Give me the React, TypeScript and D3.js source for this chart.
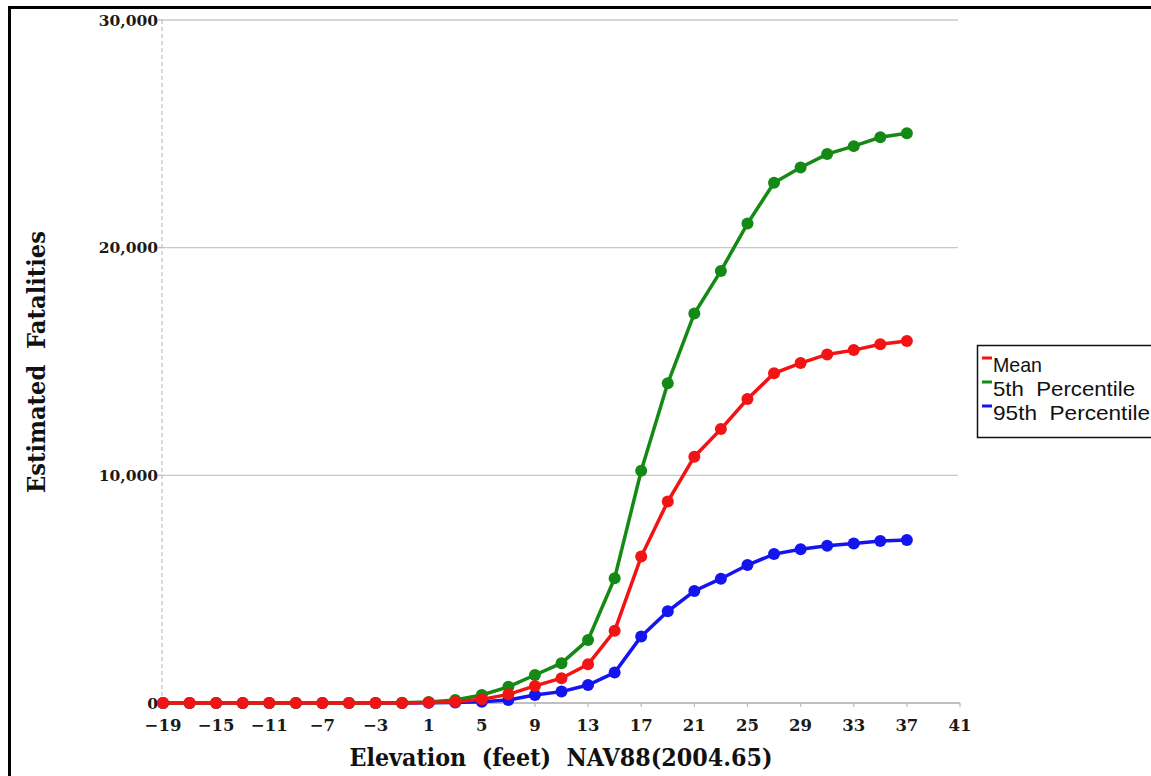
import React from "react";
import * as d3 from "d3";

const elevations = [-19, -17, -15, -13, -11, -9, -7, -5, -3, -1, 1, 3, 5, 7, 9, 11, 13, 15, 17, 19, 21, 23, 25, 27, 29, 31, 33, 35, 37];
const meanValues = [0, 0, 0, 0, 0, 0, 0, 0, 0, 5, 20, 60, 160, 380, 750, 1090, 1700, 3170, 6430, 8850, 10820, 12030, 13350, 14480, 14930, 15310, 15500, 15760, 15900];
const p5Values = [0, 0, 0, 0, 0, 0, 0, 0, 0, 10, 40, 130, 350, 710, 1230, 1750, 2770, 5480, 10200, 14040, 17110, 18980, 21060, 22850, 23520, 24110, 24460, 24850, 25030];
const p95Values = [0, 0, 0, 0, 0, 0, 0, 0, 0, 0, 10, 25, 60, 130, 350, 500, 790, 1340, 2920, 4030, 4920, 5460, 6060, 6540, 6750, 6910, 7010, 7120, 7160];
const xTicks = [-19, -15, -11, -7, -3, 1, 5, 9, 13, 17, 21, 25, 29, 33, 37, 41];
const yTicks = [0, 10000, 20000, 30000];
const seriesNames = ["Mean", "5th Percentile", "95th Percentile"];
const seriesColors = ["#f21414", "#148a14", "#1414f0"];

export default function App() {
  const W = 1151, H = 776;
  const x = d3.scaleLinear().domain([-19, 41]).range([163, 960]);
  const y = d3.scaleLinear().domain([0, 30000]).range([703, 20]);
  const serif = "'DejaVu Serif', 'Liberation Serif', serif";
  const sans = "'Liberation Sans', Arial, sans-serif";
  const line = d3.line<[number, number]>().x(d => x(d[0])).y(d => y(d[1]));
  const series = [meanValues, p5Values, p95Values];
  const drawOrder = [2, 1, 0];
  const fmt = d3.format(",");
  const minus = (v: number) => (v < 0 ? "\u2212" + Math.abs(v) : String(v));

  return (
    <svg width={W} height={H} style={{ position: "absolute", left: 0, top: 0, background: "#fff" }}>
      <rect x={0} y={0} width={W} height={H} fill="#fff" />
      <rect x={9.5} y={7.5} width={1300} height={900} fill="none" stroke="#000" strokeWidth={3} />
      {/* gridlines */}
      {yTicks.filter(t => t > 0).map(t => (
        <g key={t}>
          <line x1={x(-19) - 1} x2={958} y1={y(t)} y2={y(t)} stroke="#c8c8c8" strokeWidth={1.3} />
          <line x1={x(-19) - 5} x2={x(-19)} y1={y(t)} y2={y(t)} stroke="#bbb" strokeWidth={1.3} />
        </g>
      ))}
      <line x1={x(-19) - 1} x2={x(-19) - 1} y1={y(30000)} y2={y(0)} stroke="#c4c4c4" strokeWidth={1.3} strokeDasharray="4,3" />
      {/* x axis */}
      <line x1={x(-19) - 1} x2={x(41)} y1={y(0)} y2={y(0)} stroke="#c0c0c0" strokeWidth={2} />
      {xTicks.map(t => (
        <g key={t}>
          <line x1={x(t)} x2={x(t)} y1={y(0)} y2={y(0) + 4} stroke="#c0c0c0" strokeWidth={1.3} />
          <text x={x(t)} y={731} textAnchor="middle" fontFamily={serif} fontWeight="bold" fontSize={16.5} fill="#1a1a1a">
            {minus(t)}
          </text>
        </g>
      ))}
      {yTicks.map(t => (
        <text key={t} x={158} y={y(t) + 5.5} textAnchor="end" fontFamily={serif} fontWeight="bold" fontSize={15.5} fill="#1a1a1a">
          {fmt(t)}
        </text>
      ))}
      {/* series */}
      {drawOrder.map(i => {
        const pts: [number, number][] = elevations.map((e, j) => [e, series[i][j]]);
        return (
          <g key={i}>
            <path d={line(pts) || ""} fill="none" stroke={seriesColors[i]} strokeWidth={3.5} />
            {pts.map((p, j) => (
              <circle key={j} cx={x(p[0])} cy={y(p[1])} r={6} fill={seriesColors[i]} />
            ))}
          </g>
        );
      })}
      {/* axis titles */}
      <text x={561} y={766} textAnchor="middle" fontFamily={serif} fontWeight="bold" fontSize={24} fill="#111"
        textLength={423} lengthAdjust="spacingAndGlyphs" style={{ whiteSpace: "pre" }}>
        {"Elevation  (feet)  NAV88(2004.65)"}
      </text>
      <text transform="translate(45,362) rotate(-90)" textAnchor="middle" fontFamily={serif} fontWeight="bold" fontSize={24} fill="#111"
        textLength={262} lengthAdjust="spacingAndGlyphs" style={{ whiteSpace: "pre" }}>
        {"Estimated  Fatalities"}
      </text>
      {/* legend */}
      <rect x={977.5} y={345.5} width={300} height={92} fill="#fff" stroke="#111" strokeWidth={1.5} />
      {seriesNames.map((n, i) => (
        <g key={n}>
          <line x1={982} x2={992} y1={358 + i * 24} y2={358 + i * 24} stroke={seriesColors[i]} strokeWidth={3} />
          <text x={993} y={372 + i * 24} fontFamily={sans} fontSize={21} fill="#111" style={{ whiteSpace: "pre" }}
            textLength={n.length > 5 ? (n.length === 14 ? 142 : 157) : 49} lengthAdjust="spacingAndGlyphs">
            {n.replace(" ", "  ")}
          </text>
        </g>
      ))}
    </svg>
  );
}
